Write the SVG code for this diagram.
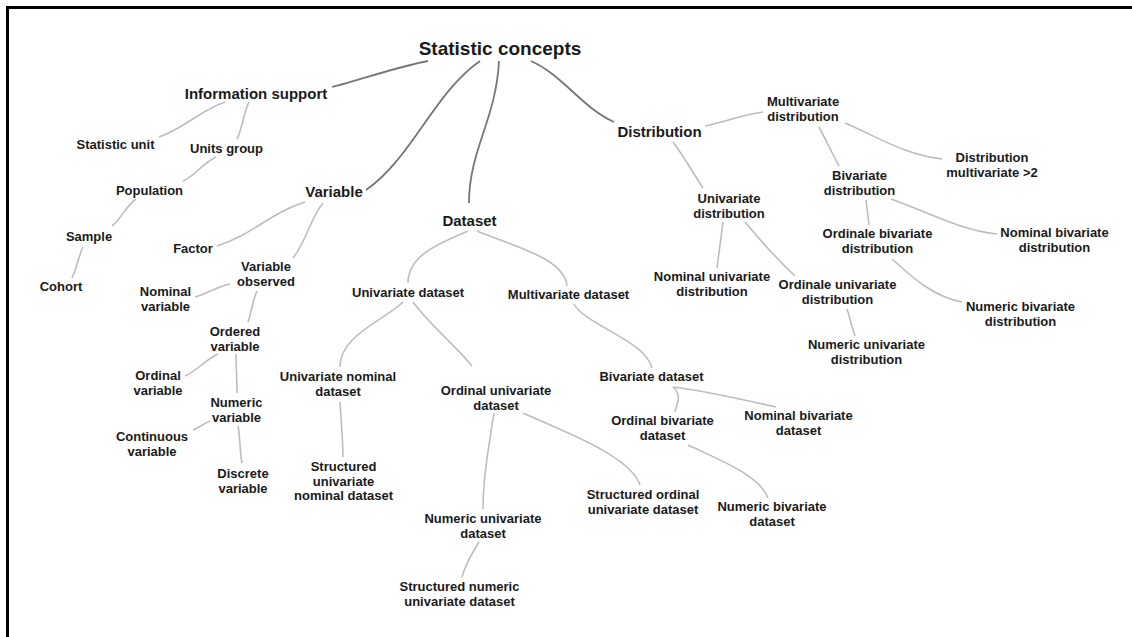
<svg xmlns="http://www.w3.org/2000/svg" width="1132" height="637" viewBox="0 0 1132 637">
<style>
text{font-family:"Liberation Sans",Arial,sans-serif;font-weight:bold;fill:#1a1a1a;text-anchor:middle;font-size:13px}
.root{font-size:19px}
.l1{font-size:15px}
.c0{fill:none;stroke:#767676;stroke-width:1.8}
.c1{fill:none;stroke:#bdbdbd;stroke-width:1.6}
</style>
<rect x="0" y="0" width="1132" height="637" fill="#fff"/>
<rect x="7.5" y="7.5" width="1200" height="700" fill="none" stroke="#000" stroke-width="3"/>
<g id="connectors">
<path class="c0" d="M428,61 C400,66 360,80 332,87"/>
<path class="c0" d="M480,61 C434,93 412,158 366,190"/>
<path class="c0" d="M499,61 C496,120 469,150 469,203"/>
<path class="c0" d="M531,61 C564,76 581,107 614,122"/>
<path class="c1" d="M225,102 C199,111 185,128 159,137"/>
<path class="c1" d="M249,102 C244,111 242,130 237,139"/>
<path class="c1" d="M216,157 C203,163 196,175 183,181"/>
<path class="c1" d="M136,199 C126,206 121,219 112,226"/>
<path class="c1" d="M83,247 C79,255 76,270 72,278"/>
<path class="c1" d="M305,202 C270,213 252,235 217,246"/>
<path class="c1" d="M323,203 C311,217 305,244 293,258"/>
<path class="c1" d="M230,284 C217,287 208,293 195,297"/>
<path class="c1" d="M257,291 C253,299 251,314 248,322"/>
<path class="c1" d="M218,354 C205,360 198,370 185,376"/>
<path class="c1" d="M236,354 C236,364 237,383 237,393"/>
<path class="c1" d="M210,421 C203,424 200,427 193,430"/>
<path class="c1" d="M238,426 C240,435 240,454 242,463"/>
<path class="c1" d="M468,231 C440,243 408,255 408,283"/>
<path class="c1" d="M477,231 C510,245 565,258 567,286"/>
<path class="c1" d="M403,302 C385,320 340,335 340,367"/>
<path class="c1" d="M413,302 C430,325 455,345 472,366"/>
<path class="c1" d="M340,402 C341,420 343,440 343,457"/>
<path class="c1" d="M494,413 C488,450 483,480 483,509"/>
<path class="c1" d="M523,413 C560,430 630,455 640,485"/>
<path class="c1" d="M479,542 C473,552 466,562 462,577"/>
<path class="c1" d="M574,304 C585,325 645,340 652,368"/>
<path class="c1" d="M673,387 C683,395 676,405 675,412"/>
<path class="c1" d="M673,387 C700,390 745,400 776,407"/>
<path class="c1" d="M688,445 C715,458 760,475 768,498"/>
<path class="c1" d="M673,142 C683,155 693,173 703,188"/>
<path class="c1" d="M705,126 C725,122 745,114 763,112"/>
<path class="c1" d="M723,222 C721,237 719,253 717,268"/>
<path class="c1" d="M745,222 C760,240 780,262 795,276"/>
<path class="c1" d="M847,309 C850,318 852,327 855,336"/>
<path class="c1" d="M845,123 C880,138 905,155 942,159"/>
<path class="c1" d="M819,127 C826,140 832,153 839,166"/>
<path class="c1" d="M866,200 C867,208 868,217 869,225"/>
<path class="c1" d="M891,199 C930,213 960,230 997,234"/>
<path class="c1" d="M892,259 C915,280 935,297 962,302"/>
</g>
<g id="n-root"><text class="root" x="500" y="55">Statistic concepts</text></g>
<g id="n-info"><text class="l1" x="256" y="99">Information support</text></g>
<g id="n-statunit"><text x="115.5" y="149">Statistic unit</text></g>
<g id="n-unitsgroup"><text x="226.5" y="153">Units group</text></g>
<g id="n-population"><text x="149.5" y="195">Population</text></g>
<g id="n-sample"><text x="89" y="241">Sample</text></g>
<g id="n-cohort"><text x="61" y="291">Cohort</text></g>
<g id="n-variable"><text class="l1" x="334" y="197">Variable</text></g>
<g id="n-factor"><text x="193" y="253">Factor</text></g>
<g id="n-varobs"><text x="266" y="271">Variable</text><text x="266" y="286">observed</text></g>
<g id="n-nominalvar"><text x="165.5" y="296">Nominal</text><text x="165.5" y="311">variable</text></g>
<g id="n-ordered"><text x="235" y="336">Ordered</text><text x="235" y="350.5">variable</text></g>
<g id="n-ordinalvar"><text x="158" y="380">Ordinal</text><text x="158" y="394.5">variable</text></g>
<g id="n-numericvar"><text x="236.5" y="407">Numeric</text><text x="236.5" y="421.5">variable</text></g>
<g id="n-continuous"><text x="152" y="441">Continuous</text><text x="152" y="455.5">variable</text></g>
<g id="n-discrete"><text x="243" y="478">Discrete</text><text x="243" y="492.5">variable</text></g>
<g id="n-dataset"><text class="l1" x="469.5" y="226">Dataset</text></g>
<g id="n-univds"><text x="408" y="297">Univariate dataset</text></g>
<g id="n-multids"><text x="568.5" y="299">Multivariate dataset</text></g>
<g id="n-univnomds"><text x="338" y="381">Univariate nominal</text><text x="338" y="395.5">dataset</text></g>
<g id="n-structunivnomds"><text x="343.5" y="471">Structured</text><text x="343.5" y="485.5">univariate</text><text x="343.5" y="500">nominal dataset</text></g>
<g id="n-ordunivds"><text x="496" y="395">Ordinal univariate</text><text x="496" y="409.5">dataset</text></g>
<g id="n-numunivds"><text x="483" y="523">Numeric univariate</text><text x="483" y="537.5">dataset</text></g>
<g id="n-structnumunivds"><text x="459.5" y="591">Structured numeric</text><text x="459.5" y="605.5">univariate dataset</text></g>
<g id="n-structordunivds"><text x="643" y="499">Structured ordinal</text><text x="643" y="513.5">univariate dataset</text></g>
<g id="n-bivds"><text x="651.5" y="381">Bivariate dataset</text></g>
<g id="n-ordbivds"><text x="662.5" y="425">Ordinal bivariate</text><text x="662.5" y="439.5">dataset</text></g>
<g id="n-nombivds"><text x="798.5" y="420">Nominal bivariate</text><text x="798.5" y="434.5">dataset</text></g>
<g id="n-numbivds"><text x="772" y="511">Numeric bivariate</text><text x="772" y="525.5">dataset</text></g>
<g id="n-distribution"><text class="l1" x="659.5" y="137">Distribution</text></g>
<g id="n-univdist"><text x="729" y="203">Univariate</text><text x="729" y="217.5">distribution</text></g>
<g id="n-nomunivdist"><text x="712" y="281">Nominal univariate</text><text x="712" y="295.5">distribution</text></g>
<g id="n-ordunivdist"><text x="837.5" y="289">Ordinale univariate</text><text x="837.5" y="303.5">distribution</text></g>
<g id="n-numunivdist"><text x="866.5" y="349">Numeric univariate</text><text x="866.5" y="363.5">distribution</text></g>
<g id="n-multidist"><text x="803" y="106">Multivariate</text><text x="803" y="120.5">distribution</text></g>
<g id="n-distmulti2"><text x="992" y="162">Distribution</text><text x="992" y="176.5">multivariate &gt;2</text></g>
<g id="n-bivdist"><text x="859.5" y="180">Bivariate</text><text x="859.5" y="194.5">distribution</text></g>
<g id="n-ordbivdist"><text x="877.5" y="238">Ordinale bivariate</text><text x="877.5" y="252.5">distribution</text></g>
<g id="n-nombivdist"><text x="1054.5" y="237">Nominal bivariate</text><text x="1054.5" y="251.5">distribution</text></g>
<g id="n-numbivdist"><text x="1020.5" y="311">Numeric bivariate</text><text x="1020.5" y="325.5">distribution</text></g>
</svg>
